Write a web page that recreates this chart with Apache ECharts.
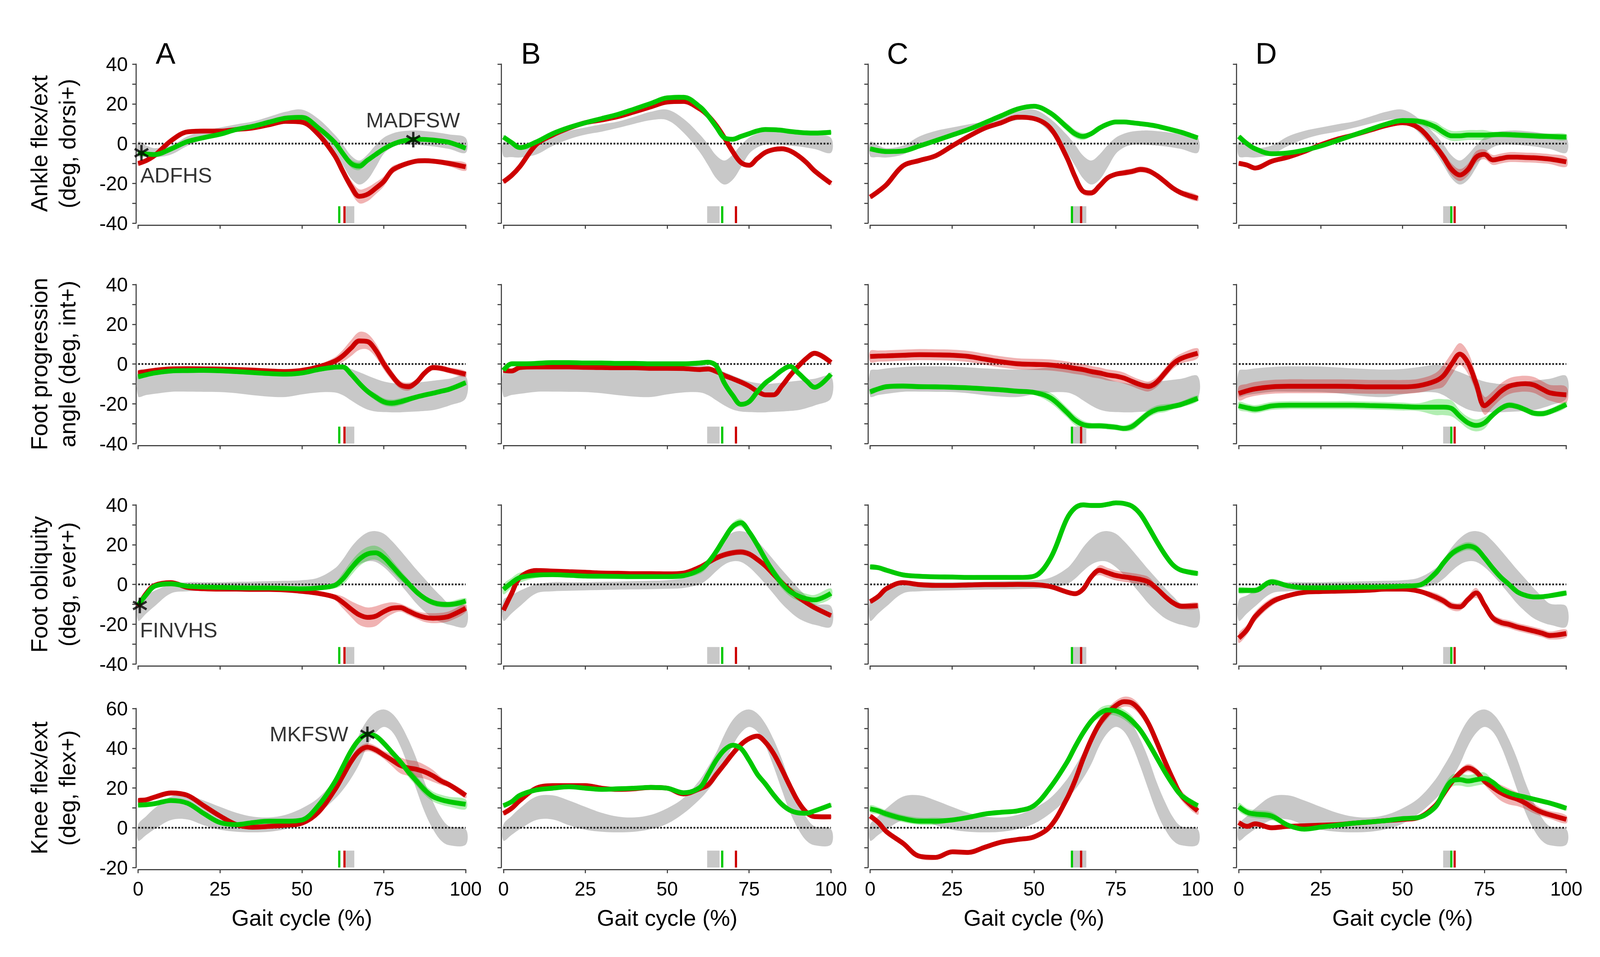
<!DOCTYPE html>
<html><head><meta charset="utf-8">
<script src="https://cdn.jsdelivr.net/npm/echarts@6/dist/echarts.min.js"></script>
<style>html,body{margin:0;padding:0;background:#fff;overflow:hidden}#c{width:100vw;height:100vh}</style>
</head><body><div id="c"></div>
<script>
// ---------- DATA ----------
const X = [0,2.5,5,10,15,20,25,30,35,40,45,50,55,60,62.5,65,67.5,70,72.5,75,77.5,80,82.5,85,87.5,90,92.5,95,100];
const colLetters = ['A','B','C','D'];
const rowTitles = ['Ankle flex/ext\n(deg, dorsi+)','Foot progression\nangle (deg, int+)','Foot obliquity\n(deg, ever+)','Knee flex/ext\n(deg, flex+)'];
const rowRange = [[-40,40],[-40,40],[-40,40],[-20,60]];

// normative (grey) bands per row
const r1_grayHi = [1,-1,-2.3,-1,3.6,6.4,8.1,9.7,11.1,13.5,16,17.1,12.5,4.5,-0.5,-6,-8.5,-5.5,-0.8,3,5,6.1,6.5,6.6,6.3,5.9,5.3,4.6,2.9];
const r1_grayLo = [-6.4,-6.8,-7,-5.5,-1.2,2.2,4.5,6,7.9,10,11.8,11.8,5.5,-4.4,-10.9,-17.5,-20.6,-18.2,-12,-5.1,-1.9,-0.6,-0.5,-0.7,-1,-1.4,-2,-2.7,-4.6];
const r2_grayHi = [-3.5,-2.8,-2.2,-1.5,-1.2,-1.2,-1.3,-1.7,-2.2,-2.6,-2.8,-2.5,-1.5,-0.5,-0.9,-2.5,-4.1,-5.8,-7.4,-8.8,-9.6,-10.1,-9.8,-9.4,-8.9,-8.4,-7.9,-7.4,-6.1];
const r2_grayLo = [-16.3,-15.6,-15,-14,-13.9,-14,-14.1,-14.7,-15.7,-16.4,-16.6,-15.3,-14.3,-14.3,-15.7,-18.3,-20.9,-22.9,-23.9,-24.2,-24.3,-24.3,-24.1,-23.9,-23.6,-23.2,-22.2,-20.9,-17.3];
const r3_grayHi = [-7.8,-5.5,-3.2,0.1,1.1,1.1,1.1,1.3,1.4,1.6,1.8,2.1,3.4,8,12.6,18.6,23.2,26.1,26.8,25.5,21.8,17.2,12.3,7.4,2.8,-1.8,-6,-9.7,-11];
const r3_grayLo = [-18.3,-14.6,-11,-4.5,-3.5,-3.2,-3,-2.8,-2.6,-2.5,-2.4,-2.2,-1.8,0.1,2.8,6.7,10,11.6,11.3,8.7,4.7,0.1,-4.8,-9.7,-13.7,-17,-19,-20.3,-21.3];
const r4_grayHi = [1.6,5.9,9.8,15.7,16.3,13.7,10.5,7.5,5.6,5.2,6.5,9.8,15,24.2,30.7,37.9,47,54.2,58.2,59.5,57.5,52.3,44.4,34.6,22.9,13.1,5.2,0.7,-0.7];
const r4_grayLo = [-6.5,-3.6,-0.7,3.9,4.2,1.3,-1,-2,-2.3,-2,-0.7,2,7.2,14.4,19,24.8,32,41.2,47.7,50.7,48.4,41.2,30.7,19,7.8,-0.7,-6.5,-8.8,-8.5];

// Row 1: ankle
const A1_red = [-10,-8.5,-6,1.4,5.9,6.3,6.3,7.1,7.9,9.5,11.2,10.8,4.7,-6,-14,-21.5,-26.5,-25.5,-22.5,-19,-13.5,-11.3,-9.8,-8.8,-8.6,-8.8,-9.3,-10,-11.7];
const A1_redSd = [1.2,1,1,1,1,1,1,1,1,1,1,1,1,1.5,2,3,3.5,3.5,3,2.5,2,1.5,1.3,1.2,1.2,1.2,1.3,1.5,2];
const A1_green = [-4.7,-5.2,-5.5,-2.7,1,3,4.7,7.1,8.7,10.8,12.8,13.2,7.9,0.6,-5,-10,-11.3,-8.4,-5.5,-2.7,-0.5,1,1.8,2.2,2.1,1.8,1.3,0.6,-2.3];
const A1_greenSd = [1,0.8,0.8,0.8,0.8,0.8,0.8,0.8,0.8,0.8,0.8,0.8,0.8,1.2,1.5,2,2,1.5,1.2,1,0.8,0.8,0.8,0.8,0.8,0.8,0.8,0.8,1];
const B1_red = [-19.2,-16,-11.6,-0.5,4.3,7.8,10.5,11.9,13.6,16,18.5,20.9,21.2,17.4,14,9.1,2.9,-4,-9.5,-10.9,-7.5,-4.4,-3,-2.6,-3.6,-6.1,-9.5,-13.7,-20];
const B1_redSd = [1,1,1,1,1,1,1,1,1,1,1,1,1,1,1,1,1,1,1,1,1,1,1,1,1,1,1,1,1];
const B1_green = [3.3,0.5,-2,0.8,5,8.1,10.5,12.6,14.7,17.4,20.2,23,23.3,18.5,14,8.4,2.9,2.2,3.6,5,6.4,7.1,7,6.7,6.1,5.7,5.4,5.3,5.7];
const B1_greenSd = [1,1,1,1,1,1,1,1,1,1,1,1,1,1,1,1,1,1,1,1,1,1,1,1,1,1,1,1,1];
const C1_red = [-26.9,-24,-20.6,-11.2,-8.5,-6.1,-1.2,3.6,7.8,10.5,13.3,12.6,7.8,-6.8,-16.5,-24,-24.8,-21.3,-17.2,-15.4,-14.7,-14,-13,-13.7,-16,-19.2,-22.5,-24.8,-27.5];
const C1_redSd = [1,1,1,1,1,1,1,1,1,1,1,1,1,1.2,1.5,1.5,1.5,1.3,1.2,1.2,1.5,1.5,1.5,1.5,1.2,1.2,1.2,1.5,1.5];
const C1_green = [-2.6,-3.5,-4,-3.7,-1.2,1.5,4.3,7.1,10.5,14,17.4,18.8,15.4,8.4,5,3.6,5,7.8,9.8,10.9,10.9,10.5,10,9.5,8.8,7.8,6.8,5.7,2.9];
const C1_greenSd = [1,1,1,1,1,1,1,1,1,1,1,1,1.5,2,2,1.8,1.2,1,1,1,1,1,1,1,1,1,1,1,1];
const D1_red = [-9.9,-10.8,-12.3,-8.9,-6.8,-4,-0.6,2.2,4.3,6.7,9.1,10.5,7.8,-1.2,-6.8,-13,-15.8,-13,-6.8,-5.4,-8.2,-7.5,-6.8,-6.8,-7,-7.1,-7.4,-7.8,-9.2];
const D1_redSd = [1,1,1,1,1,1,1,1,1,1,1,1,1,1.5,2.5,3,3,3,3,2.5,2.5,2.5,2.5,2.5,2.5,2.5,2.5,2.5,2.5];
const D1_green = [3.6,0,-2.6,-5.1,-4.7,-3.3,-1.2,1.5,4.3,7.1,9.8,11.6,11.2,8.4,5.7,3.9,3.9,4.3,4.3,4.3,4.5,4.6,4.5,4.3,4.1,3.9,3.7,3.6,3.3];
const D1_greenSd = [0.8,0.8,0.8,0.8,0.8,0.8,0.8,0.8,0.8,0.8,0.8,0.8,1.5,2.5,2.5,2.5,2.5,2.5,2.5,2.5,1.5,1.5,1.5,1.5,1.5,1.5,1.5,1.5,1.5];

// Row 2: foot progression
const A2_red = [-4.5,-3.8,-3.2,-2.5,-2.4,-2.5,-2.6,-2.8,-3.1,-3.5,-3.8,-3.2,-1.5,1.4,4.1,8,11.6,11.3,7,0.1,-5.8,-10.4,-11.4,-9.1,-4.5,-1.8,-2.2,-3.2,-5.1];
const A2_redSd = [1.3,1.3,1.3,1.3,1.3,1.3,1.3,1.3,1.3,1.3,1.3,1.3,1.3,2,3,4,4.5,4,3.5,3,2.5,2,2,1.5,1.5,1.5,1.5,1.5,1.5];
const A2_green = [-6.4,-5.4,-4.5,-3.5,-3.3,-3.2,-3.4,-3.8,-4.3,-4.8,-5.1,-4.5,-2.8,-1.6,-1.5,-5.1,-9.7,-13.7,-16.6,-19,-19.7,-19,-17.8,-16.6,-15.6,-14.7,-13.7,-12.7,-9.4];
const A2_greenSd = [1.2,1.2,1.2,1.2,1.2,1.2,1.2,1.2,1.2,1.2,1.2,1.2,1.2,1.2,1.2,1.2,1.2,1.5,1.8,1.8,1.8,1.8,1.5,1.2,1.2,1.2,1.2,1.2,1.2];
const B2_red = [-3.2,-3.5,-1.8,-1.5,-1.5,-1.5,-1.7,-1.8,-1.9,-1.9,-2.2,-2.2,-2.3,-2.8,-2.5,-3.8,-5.8,-7.4,-9.1,-11.1,-13.7,-15.5,-15.5,-11.1,-5.8,-1.2,2.8,5.4,0.8];
const B2_redSd = [1,1,1,1,1,1,1,1,1,1,1,1,1,1,1,1,1,1,1,1,1,1,1,1,1,1,1,1,1];
const B2_green = [-3.2,0.1,0.1,0.3,0.7,0.7,0.5,0.5,0.3,0.3,0.1,0.1,0.1,0.5,0.9,-1,-9.7,-15.8,-20.3,-19,-14,-9.5,-6.5,-3.2,-1.2,-4.5,-8.4,-11.7,-5.1];
const B2_greenSd = [1,1,1,1,1,1,1,1,1,1,1,1,1,1,1,1,1,1,1,1,1,1,1,1,1,1,1,1,1];
const C2_red = [3.8,4,4.1,4.4,4.7,4.6,4.4,3.8,2.4,1.1,0.1,-0.2,-0.5,-1.5,-2.2,-2.8,-3.8,-4.5,-5.5,-6.1,-7.1,-8.8,-10.4,-11.3,-9.1,-4.5,0.1,2.8,5.4];
const C2_redSd = [2.8,2.8,2.8,2.8,2.8,2.8,2.8,2.8,2.8,2.8,2.8,2.8,2.8,2.8,2.8,2.8,2.8,2.8,2.8,2.8,2.8,2.5,2.5,2.5,2.5,2.5,2.5,2.5,2.5];
const C2_green = [-14,-12.5,-11.4,-11.1,-11.4,-11.5,-11.7,-12,-12.5,-13,-13.7,-14.3,-17,-24.2,-28.2,-30.5,-31.1,-31.1,-31.4,-31.8,-32.4,-31.4,-28.2,-24.9,-22.9,-22.2,-21.3,-20.3,-17.3];
const C2_greenSd = [1.3,1.3,1.3,1.3,1.3,1.3,1.3,1.3,1.3,1.3,1.3,1.3,2.5,2.5,2.5,2,1.5,1.5,1.5,1.5,1.5,2,2,2,2,2,1.5,1.5,1.5];
const D2_red = [-14.8,-13.5,-12.5,-11.5,-11.2,-11.2,-11.2,-11.2,-11.3,-11.5,-11.5,-11.5,-10.9,-8.6,-5.9,0,5,0.5,-10,-21,-17.8,-13.8,-11.2,-10.2,-9.9,-10.5,-12.5,-14.5,-15.5];
const D2_redSd = [3.5,3.5,3.5,3.5,3.5,3.5,3.5,3.5,3.5,3.5,3.5,3.5,3.5,4,5.5,5.5,5.5,5.5,4.5,4.5,4,4,4,4,4,4,4,4,4];
const D2_green = [-21,-22,-22.7,-21.1,-20.7,-20.7,-20.7,-20.7,-20.7,-20.9,-21.1,-21.4,-21.7,-21.7,-21.7,-22.4,-26.3,-29.6,-30.9,-29.6,-25.7,-22.4,-20.7,-21.4,-23,-24.7,-25,-24,-20.4];
const D2_greenSd = [2,2,2,2,2,2,2,2,2,2,2,2,2,4,4,4,3,3,3,3,1.5,1.5,1.5,1.5,1.5,1.5,1.5,1.5,1.5];

// Row 3: foot obliquity
const A3_red = [-11,-4.5,-0.5,0.9,-1.5,-2.2,-2.4,-2.4,-2.5,-2.5,-2.8,-3.5,-4.5,-6.4,-9.1,-12.4,-15.3,-16.6,-16,-13.7,-12,-11.7,-13.4,-15.3,-16.6,-17,-16.8,-16,-12];
const A3_redSd = [0.8,0.8,0.8,0.8,0.8,0.8,0.8,0.8,0.8,0.8,0.8,0.8,0.8,1.5,3,4,5,5,5,4,3,2,2,2,2.3,2.5,2.5,2.5,2];
const A3_green = [-10.4,-5.1,-0.9,0.3,-0.9,-1.3,-1.5,-1.7,-1.8,-1.8,-2,-2.2,-1.8,-0.5,2.8,8,12.6,15.3,15.9,13.6,9.3,4.7,0.5,-3.8,-7,-9.1,-10,-10.1,-8.4];
const A3_greenSd = [1,1,1,1,1,1,1,1,1,1,1,1,1,1.5,3,3.5,3.5,3.5,3.5,3.5,3,2.5,2,1.5,1.5,1.5,1.5,1.5,1.5];
const B3_red = [-13,-4.5,3.4,7,6.7,6.4,6.1,5.7,5.6,5.4,5.4,5.3,5.7,8.7,11,13.3,14.9,15.9,16.3,15.3,12.6,9.3,5,0.8,-3,-6.4,-9.2,-11.7,-15.7];
const B3_redSd = [1,1,1,1,1,1,1,1,1,1,1,1,1,1,1,1.5,1.5,1.5,1.5,1.5,1.5,1,1,1,1,1,1,1,1];
const B3_green = [-2.5,0.8,3.4,4.7,4.9,4.6,4.2,4.1,4,3.9,3.9,3.9,4.4,7.4,11,16.6,23.2,29.1,31,26.4,19.9,12.6,6,0.5,-3.5,-5.8,-7.2,-7.8,-4.5];
const B3_greenSd = [2.5,2.5,2.5,1.5,1,1,1,1,1,1,1,1,1,2,2,2,2,2,2,2,1.5,1.5,2.5,2.5,2.5,2.5,2.5,2.5,2.5];
const C3_red = [-8.7,-6,-2.1,0.9,-0.1,-0.5,-0.5,-0.3,-0.1,-0.1,0,-0.1,-1.1,-3.8,-4.7,-2.4,3.8,7.1,5.8,4.5,3.8,3.2,2.5,1.2,-2.1,-6,-9.3,-11,-10.7];
const C3_redSd = [1,1,1,1,1,1,1,1,1,1,1,1,1,1,1,1,1,2.5,2.5,2.5,2.5,2.5,2.5,2.5,1.5,1.5,1.5,1.5,1.5];
const C3_green = [8.8,8.4,7.1,4.8,4.1,3.8,3.7,3.5,3.5,3.5,3.5,4.1,13,32.8,38.4,40,39.7,39.7,40.3,41,40.7,39.3,35.4,28.8,21.6,15,9.7,7.1,5.5];
const C3_greenSd = [1.2,1.2,1.2,1.2,1.2,1.2,1.2,1.2,1.2,1.2,1.2,1.2,2,2,1.5,1.2,1.2,1.2,1.2,1.2,1.2,1.2,1.2,1.2,1.2,1.2,1.2,1.2,1.2];
const D3_red = [-27,-22.8,-16.2,-8.9,-5.7,-4,-3.6,-3.4,-3.2,-2.9,-2.4,-2.4,-3.4,-6.3,-8.3,-10.9,-11.3,-7.6,-4.3,-10.3,-16.8,-19.1,-20.1,-21.4,-22.4,-23.4,-24.5,-25.7,-24.7];
const D3_redSd = [2.5,2.5,2.5,2,1,1,1,1,1,1,1,1,1,2,2,2,2,2,2.5,2,2,2,2,2,2,2,2,2,2];
const D3_green = [-3,-3,-3,1.3,-0.7,-1.7,-1.7,-1.6,-1.4,-1.4,-1.2,-0.9,-0.4,5.5,10.8,15.4,18,19.3,18,13.4,8.2,3.6,0,-3.7,-5.5,-6.3,-6.2,-5.7,-4.3];
const D3_greenSd = [1.5,1.5,1.5,1.5,1.2,1.2,1.2,1.2,1.2,1.2,1.2,1.2,1.2,2,2,2,2,2,2,2,1.2,1.2,1.2,1.2,1.2,1.2,1.2,1.2,1.2];

// Row 4: knee
const A4_red = [13.7,14.1,15.4,17.5,16.3,11.1,5.9,1.6,0.3,0.7,1.3,2.3,7.8,19,26.1,33.3,38.6,40.5,39.2,36.6,34,31.4,30.1,29.4,28.1,26.1,23.5,21.6,16.3];
const A4_redSd = [1.2,1.2,1.2,1.2,1.2,1.2,1.2,1.2,1.2,1.2,1.2,1.2,1.2,2,2,2,2,2,2,2,3,4,4,4,3.5,3,2,1.5,1.5];
const A4_green = [11.4,11.6,12.1,13.7,12.4,7.2,2.6,1.6,2.6,3.3,3.3,3.9,11.1,22.9,30.7,38.6,44.4,47.1,46.1,42.5,37.9,33.3,28.1,23.5,19,15.7,14.1,13.1,11.8];
const A4_greenSd = [1,1,1,1,1,1,1,1,1,1,1,1,1,1,1,1,1,1,1,1,1,1,2.5,2.5,2.5,2.5,2.5,2.5,2.5];
const B4_red = [7.2,9.8,13.7,19.9,21.2,21.2,21.2,19.9,19.3,19.6,20.3,19.9,17,19.6,21.6,26.8,32,37.3,41.8,44.8,46.1,43,37.3,29.4,20.9,13.1,7.8,5.6,5.5];
const B4_redSd = [1,1,1,1,1,1,1,1,1,1,1,1,1,1,1,1,1,1,1,1,1,1,1,1,1,1,1,1,1];
const B4_green = [11.1,13.1,16.3,19,19.9,20.6,19.9,19.3,19.6,19.9,20.3,19.9,17.6,20.3,26.8,34,39.2,41.5,39.9,34,27,22,16.5,11.8,8.8,7.5,7.3,8.5,11.5];
const B4_greenSd = [1,1,1,1,1,1,1,1,1,1,1,1,1,1,1,1,1,1,1,1,1,1,1,1,1,1,1,1,1];
const C4_red = [5.9,2.6,-2,-7.8,-14.3,-14.9,-12.1,-12.4,-9.8,-7.2,-5.9,-4.6,0.7,14.4,23.5,34.6,44.4,52.3,57.5,61.4,63.4,62.7,58.8,52.3,43.1,33.3,24.2,16.3,8.5];
const C4_redSd = [1.2,1.2,1.2,1.2,1.2,1.2,1.2,1.2,1.2,1.2,1.2,1.2,1.2,1.2,1.2,1.2,1.2,2.5,2.5,2.5,2.5,2.5,2.5,2.5,2.5,2.5,2.5,2.5,2];
const C4_green = [9.5,8.5,6.9,4.6,3.3,3.3,3.9,5.2,6.9,7.8,8.5,11.1,20.3,32.7,40.5,47.7,53.6,57.5,59.2,58.8,56.9,53.6,49,42.5,35.3,28.1,21.6,16.3,11.1];
const C4_greenSd = [1.8,1.8,1.8,1.8,1.8,1.8,1,1,1,1,1,1,1,1,1,1,1,2.5,2.5,2.5,2.5,2.5,1.2,1.2,1.2,1.2,1.2,1.2,1.2];
const D4_red = [2.6,0.7,2,0,0.7,1,1.3,1.6,2.3,2.9,3.6,4.2,5.2,11.1,17,22.9,27.5,30.1,28.1,23.5,20.3,17.6,15.7,14.4,12.4,9.8,7.8,6.5,4.2];
const D4_redSd = [1.2,1.2,1.2,1.2,1.2,1.2,1.2,1.2,1.2,1.2,1.2,1.2,1.2,1.2,2,2,2,2,2,2,3,4,4,3.5,3,2.5,2,2,2];
const D4_green = [10.5,7.8,6.9,5.9,1.3,-0.7,0.3,1.3,2.3,2.9,3.6,4.6,5.2,10.5,17.6,23.5,24.2,23.5,24.2,24.8,22.9,19.6,17.6,16.3,15.4,14.4,13.4,12.4,9.8];
const D4_greenSd = [2,2,2,2,1,1,1,1,1,1,1,1,1,2,3,3,3,3,3,3,1.2,1.2,1.2,1.2,1.2,1.2,1.2,1.2,1.2];

// toe-off markers per column: grey range, green, red
const toeOffGray = [[63.4,66.0],[62.2,66.0],[61.8,66.0],[62.4,64.8]];
const toeOffGreen = [61.4,66.8,61.6,64.9];
const toeOffRed = [63.0,71.0,64.4,65.9];

// annotated points
const starADFHS = [1,-4.6];
const starMADFSW = [84,2];
const starFINVHS = [0.5,-10.6];
const starMKFSW = [70,47];

// ---------- LAYOUT / STYLE ----------
const el = document.getElementById('c');
const W = el.clientWidth || window.innerWidth, H = el.clientHeight || window.innerHeight;
const sx = W/4319, sy = H/2449, sf = Math.min(sx, sy);
const PX = v => v*sx, PY = v => v*sy, FS = v => Math.round(v*sf*10)/10;

const FONT = '"Liberation Sans", Arial, Helvetica, sans-serif';
const colLeft = [373,1359,2349,3344];
const rowTop = [164,728,1292,1813];
const plotW = 884, plotH = 407;
const RED = '#cc0000', GREEN = '#00c800', GRAY = '#c8c8c8';
const AXIS = '#444';
const markH = 8.5;

const grayRows = [[r1_grayLo,r1_grayHi],[r2_grayLo,r2_grayHi],[r3_grayLo,r3_grayHi],[r4_grayLo,r4_grayHi]];
const curves = {
  A1:[A1_red,A1_redSd,A1_green,A1_greenSd], B1:[B1_red,B1_redSd,B1_green,B1_greenSd], C1:[C1_red,C1_redSd,C1_green,C1_greenSd], D1:[D1_red,D1_redSd,D1_green,D1_greenSd],
  A2:[A2_red,A2_redSd,A2_green,A2_greenSd], B2:[B2_red,B2_redSd,B2_green,B2_greenSd], C2:[C2_red,C2_redSd,C2_green,C2_greenSd], D2:[D2_red,D2_redSd,D2_green,D2_greenSd],
  A3:[A3_red,A3_redSd,A3_green,A3_greenSd], B3:[B3_red,B3_redSd,B3_green,B3_greenSd], C3:[C3_red,C3_redSd,C3_green,C3_greenSd], D3:[D3_red,D3_redSd,D3_green,D3_greenSd],
  A4:[A4_red,A4_redSd,A4_green,A4_greenSd], B4:[B4_red,B4_redSd,B4_green,B4_greenSd], C4:[C4_red,C4_redSd,C4_green,C4_greenSd], D4:[D4_red,D4_redSd,D4_green,D4_greenSd]
};

function asteriskPath(){
  const L = 10, w = 1.5; let d = '';
  for (const deg of [90, 30, 150]) {
    const a = deg*Math.PI/180, c = Math.cos(a), s = Math.sin(a);
    const px = -s*w, py = c*w;
    const pts = [[L*c+px, L*s+py],[L*c-px, L*s-py],[-L*c-px, -L*s-py],[-L*c+px, -L*s+py]];
    d += 'M' + pts.map(p => p[0].toFixed(3)+' '+p[1].toFixed(3)).join(' L') + ' Z ';
  }
  return 'path://' + d;
}
const STAR = asteriskPath();

const grids = [], xAxes = [], yAxes = [], series = [], graphics = [];
const pairs = ys => X.map((x,i) => [x, ys[i]]);

// band drawn as one smoothed polygon through the axis scales
function addBand(idx, lo, hi, color, z){
  series.push({type:'custom', xAxisIndex:idx, yAxisIndex:idx, silent:true, z:z, clip:false, animation:false,
    data: X.map((x,i) => [x, lo[i], hi[i]]),
    encode:{x:0, y:[1,2]},
    renderItem: (params, api) => {
      if (params.dataIndex !== 0) return null;
      const up = X.map((x,i) => api.coord([x, hi[i]]));
      const dn = X.map((x,i) => api.coord([x, lo[i]])).reverse();
      return {type:'polygon', shape:{points: up.concat(dn), smooth:0.35}, style:{fill:color}};
    }});
}

for (let r = 0; r < 4; r++) {
  for (let c = 0; c < 4; c++) {
    const idx = r*4 + c;
    const key = colLetters[c] + (r+1);
    const [yMin, yMax] = rowRange[r];
    grids.push({left: PX(colLeft[c]), top: PY(rowTop[r]), width: PX(plotW), height: PY(plotH)});
    xAxes.push({type:'value', gridIndex:idx, min:0, max:100, interval:25, offset:PY(5),
      axisLine:{show:true, onZero:false, lineStyle:{color:AXIS, width:3*sf}},
      axisTick:{show:true, length:10*sf, lineStyle:{color:AXIS, width:3*sf}},
      axisLabel:{show: r===3, fontSize:FS(52), color:'#000', margin:26*sf, fontFamily:FONT},
      splitLine:{show:false},
      name: r===3 ? 'Gait cycle (%)' : '', nameLocation:'middle', nameGap:100*sf,
      nameTextStyle:{fontSize:FS(61), color:'#000', fontFamily:FONT}});
    yAxes.push({type:'value', gridIndex:idx, min:yMin, max:yMax, interval:10, offset:PX(6),
      axisLine:{show:true, onZero:false, lineStyle:{color:AXIS, width:3*sf}},
      axisTick:{show:true, length:10*sf, lineStyle:{color:AXIS, width:3*sf}},
      axisLabel:{show: c===0, fontSize:FS(53), color:'#000', margin:22*sf, fontFamily:FONT,
        formatter: v => (v % 20 === 0 ? String(v) : '')},
      splitLine:{show:false}});

    // normative band
    addBand(idx, grayRows[r][0], grayRows[r][1], GRAY, 1);
    // zero line
    series.push({type:'line', xAxisIndex:idx, yAxisIndex:idx, data:[[0,0],[100,0]], symbol:'none', silent:true, z:2,
      lineStyle:{color:'#222', width:5*sf, type:[5*sf,4*sf]}, animation:false});
    // patient SD bands
    const [red, redSd, green, greenSd] = curves[key];
    addBand(idx, red.map((v,i)=>v-redSd[i]), red.map((v,i)=>v+redSd[i]), 'rgba(204,0,0,0.3)', 3);
    addBand(idx, green.map((v,i)=>v-greenSd[i]), green.map((v,i)=>v+greenSd[i]), 'rgba(0,200,0,0.3)', 3);
    // toe-off markers
    series.push({type:'custom', xAxisIndex:idx, yAxisIndex:idx, silent:true, z:3, animation:false,
      data:[[toeOffGray[c][0], toeOffGray[c][1], toeOffGreen[c], toeOffRed[c]]],
      encode:{x:[0,1,2,3]},
      renderItem:(params, api) => {
        const y0 = yMin, y1 = yMin + markH;
        const pA = api.coord([api.value(0), y1]);
        const pB = api.coord([api.value(1), y0]);
        const gT = api.coord([api.value(2), y1]), gB = api.coord([api.value(2), y0]);
        const rT = api.coord([api.value(3), y1]), rB = api.coord([api.value(3), y0]);
        return {type:'group', children:[
          {type:'rect', shape:{x:pA[0], y:pA[1], width:pB[0]-pA[0], height:pB[1]-pA[1]}, style:{fill:GRAY}},
          {type:'line', shape:{x1:gT[0], y1:gT[1], x2:gB[0], y2:gB[1]}, style:{stroke:GREEN, lineWidth:6*sf}},
          {type:'line', shape:{x1:rT[0], y1:rT[1], x2:rB[0], y2:rB[1]}, style:{stroke:RED, lineWidth:6*sf}}
        ]};
      }});
    // mean curves
    series.push({type:'line', xAxisIndex:idx, yAxisIndex:idx, data:pairs(red), smooth:0.35, symbol:'none', silent:true, clip:false, z:4,
      lineStyle:{color:RED, width:13*sf}, animation:false});
    series.push({type:'line', xAxisIndex:idx, yAxisIndex:idx, data:pairs(green), smooth:0.35, symbol:'none', silent:true, clip:false, z:4,
      lineStyle:{color:GREEN, width:13*sf}, animation:false});
  }
}

// annotated stars
function starSeries(idx, pt, name, labelPos, align){
  series.push({type:'scatter', xAxisIndex:idx, yAxisIndex:idx, symbol:STAR, symbolSize:42*sf, symbolKeepAspect:true, z:6, silent:true, clip:false, animation:false,
    itemStyle:{color:'#000'},
    data:[{value:pt, name:name}],
    label:{show:true, formatter:'{b}', position:[labelPos[0]*sf, labelPos[1]*sf], align:align, verticalAlign:'middle', fontSize:FS(57), color:'#000', fontFamily:FONT}});
}
starSeries(0, starADFHS, 'ADFHS', [17, 81], 'left');
starSeries(0, starMADFSW, 'MADFSW', [19, -32], 'center');
starSeries(8, starFINVHS, 'FINVHS', [20, 87], 'left');
starSeries(12, starMKFSW, 'MKFSW', [-32, 20], 'right');

// panel letters
for (let c = 0; c < 4; c++) {
  graphics.push({type:'text', x: PX(colLeft[c] + 74), y: PY(136), silent:true,
    style:{text: colLetters[c], fontSize:FS(80), fontFamily:FONT, fill:'#000', align:'center', verticalAlign:'middle'}});
}
// row titles
for (let r = 0; r < 4; r++) {
  graphics.push({type:'text', x:PX(144), y: PY(rowTop[r] + plotH/2), rotation: Math.PI/2, silent:true,
    style:{text: rowTitles[r], fontSize:FS(62), lineHeight:FS(76), fontFamily:FONT, fill:'#000', align:'center', verticalAlign:'middle'}});
}

const chart = echarts.init(el, null, {renderer:'svg'});
chart.setOption({
  animation:false,
  backgroundColor:'#fff',
  grid: grids, xAxis: xAxes, yAxis: yAxes, series: series, graphic: graphics
});
</script>
</body></html>
